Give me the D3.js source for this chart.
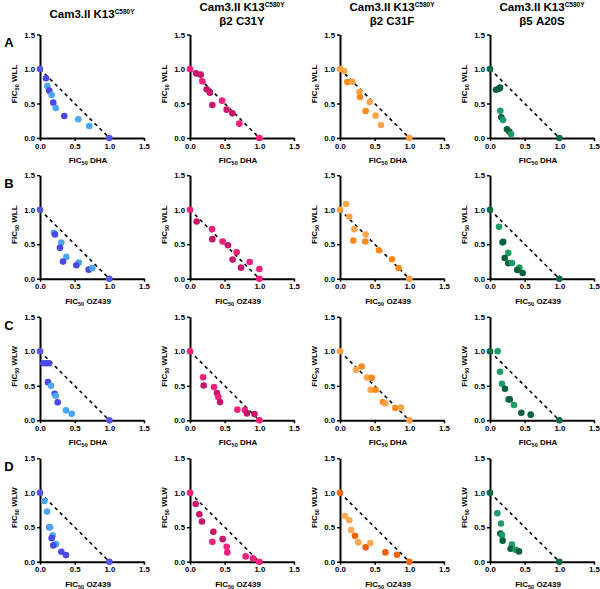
<!DOCTYPE html>
<html lang="en">
<head>
  <meta charset="UTF-8">
  <style>
    body { margin: 0; background: #fff; overflow: hidden; }
    svg { display: block; }
    text { font-family: "Liberation Sans", Arial, sans-serif; font-weight: bold; fill: #000; }
    .axis path, .axis line { stroke: #000; }
    .axis path { stroke-width: 2; }
    .axis line { stroke-width: 1.5; }
    .axis text { font-size: 7.8px; font-family: "Liberation Sans", Arial, sans-serif; font-weight: bold; }
    .diag { stroke: #000; stroke-width: 1.6; stroke-dasharray: 3.5, 3.5; }
  </style>
  <script src="https://d3js.org/d3.v7.min.js"></script>
</head>
<body>
<svg id="chart"></svg>
<script>
  // column headers (line 2 is optional)
  const headers = [
    ["Cam3.II K13", ""],
    ["Cam3.II K13", "\u03b22 C31Y"],
    ["Cam3.II K13", "\u03b22 C31F"],
    ["Cam3.II K13", "\u03b25 A20S"]
  ];
  const rowLetters = ["A", "B", "C", "D"];
  const xDrugs = ["DHA", "OZ439", "DHA", "OZ439"];
  const yDrugs = ["WLL", "WLL", "WLW", "WLW"];
  const tickValues = [0, 0.5, 1.0, 1.5];
  // single-drug anchors at FIC (0,1) and (1,0)
  const anchors = [[0, 1], [1, 0]];

  // points: [FIC x, FIC y, replicate]
  const pA1 = [[0.087,0.865,1],[0.105,0.754,2],[0.134,0.686,1],[0.169,0.623,2],[0.192,0.512,1],[0.226,0.435,2],[0.35,0.319,1],[0.552,0.271,2],[0.711,0.174,2]];
  const pA2 = [[0.087,0.937,1],[0.154,0.918,1],[0.178,0.821,2],[0.24,0.705,1],[0.288,0.657,1],[0.322,0.478,1],[0.462,0.541,2],[0.529,0.411,1],[0.611,0.357,1],[0.712,0.208,2]];
  const pA3 = [[0.063,0.97,2],[0.106,0.81,1],[0.178,0.816,2],[0.279,0.666,2],[0.288,0.594,1],[0.428,0.522,2],[0.37,0.391,1],[0.514,0.324,2],[0.591,0.188,2]];
  const pA4 = [[0.087,0.70,1],[0.13,0.715,1],[0.144,0.73,1],[0.149,0.396,2],[0.163,0.30,1],[0.188,0.26,2],[0.245,0.126,1],[0.279,0.092,1],[0.303,0.053,2]];

  const pB1 = [[0.202,0.665,2],[0.216,0.641,1],[0.308,0.524,2],[0.288,0.447,1],[0.38,0.316,2],[0.332,0.248,1],[0.558,0.233,2],[0.524,0.194,1],[0.702,0.131,1],[0.755,0.155,2]];
  const pB2 = [[0.096,0.83,1],[0.317,0.718,2],[0.322,0.573,1],[0.471,0.539,2],[0.548,0.485,1],[0.673,0.383,2],[0.615,0.277,1],[0.861,0.243,2],[0.736,0.16,1],[1.0,0.141,2]];
  const pB3 = [[0.087,1.083,2],[0.135,0.898,2],[0.207,0.718,2],[0.192,0.553,1],[0.37,0.64,2],[0.365,0.539,1],[0.562,0.413,1],[0.75,0.282,1],[0.846,0.155,1]];
  const pB4 = [[0.13,0.752,2],[0.178,0.524,2],[0.19,0.534,1],[0.264,0.374,2],[0.212,0.30,1],[0.264,0.223,1],[0.317,0.228,2],[0.423,0.16,2],[0.394,0.126,1],[0.471,0.083,1]];

  const pC1 = [[0.048,0.827,1],[0.096,0.827,1],[0.13,0.827,1],[0.115,0.553,1],[0.159,0.50,2],[0.212,0.385,1],[0.226,0.356,2],[0.255,0.26,1],[0.375,0.144,2],[0.457,0.096,2]];
  const pC2 = [[0.188,0.625,2],[0.197,0.505,1],[0.346,0.481,2],[0.389,0.394,1],[0.409,0.337,2],[0.433,0.264,1],[0.683,0.154,2],[0.79,0.15,2],[0.82,0.10,1],[0.93,0.09,1]];
  const pC3 = [[0.231,0.731,2],[0.312,0.779,1],[0.389,0.62,2],[0.457,0.615,1],[0.442,0.442,2],[0.514,0.442,1],[0.62,0.264,1],[0.654,0.245,2],[0.798,0.178,1],[0.88,0.183,2]];
  const pC4 = [[0.11,1.0,2],[0.144,0.702,2],[0.173,0.529,2],[0.216,0.457,1],[0.264,0.303,2],[0.284,0.303,1],[0.346,0.221,2],[0.452,0.11,1],[0.587,0.082,1]];

  const pD1 = [[0.063,0.88,2],[0.101,0.726,2],[0.135,0.50,1],[0.145,0.50,2],[0.183,0.38,2],[0.168,0.341,1],[0.231,0.255,2],[0.192,0.236,1],[0.308,0.144,1],[0.375,0.096,1]];
  const pD2 = [[0.082,0.837,1],[0.135,0.688,1],[0.173,0.582,1],[0.337,0.433,1],[0.322,0.288,2],[0.471,0.327,1],[0.529,0.216,2],[0.538,0.135,2],[0.803,0.077,2],[0.909,0.048,2]];
  const pD3 = [[0.072,0.66,2],[0.134,0.60,2],[0.159,0.46,2],[0.216,0.375,1],[0.264,0.28,2],[0.37,0.208,1],[0.437,0.27,2],[0.654,0.135,1],[0.822,0.10,1]];
  const pD4 = [[0.106,0.702,2],[0.159,0.553,2],[0.149,0.409,1],[0.173,0.385,2],[0.183,0.303,1],[0.317,0.25,2],[0.298,0.188,1],[0.37,0.173,2],[0.418,0.149,1]];

  const panels = [[pA1, pA2, pA3, pA4], [pB1, pB2, pB3, pB4], [pC1, pC2, pC3, pC4], [pD1, pD2, pD3, pD4]];

  // colours per column: anchor, replicate 1 (dark), replicate 2 (light)
  const palettes = [
    { end: "#5656ee", r1: "#4a48e6", r2: "#4ba6f3" },
    { end: "#ff1c7c", r1: "#c8146a", r2: "#f0207c" },
    { end: "#ffa040", r1: "#ff8a1a", r2: "#ffa64a" },
    { end: "#0c6a40", r1: "#0b603c", r2: "#1d9c68" }
  ];
  const orangeD = { end: "#ff6a10", r1: "#f5600a", r2: "#ffa84f" };

  const W = 600, H = 589;
  const colX = [40, 190, 340, 490];
  const rowZero = [138, 278.7, 420.3, 561.7];
  const plotW = 104, plotH = 103.5;

  const svg = d3.select("#chart").attr("width", W).attr("height", H);

  // headers
  headers.forEach((h, c) => {
    const cx = colX[c] + plotW / 2;
    const y1 = h[1] ? 8 : 15;
    const t = svg.append("text")
      .attr("x", cx).attr("y", y1)
      .attr("text-anchor", "middle")
      .attr("dominant-baseline", "middle")
      .style("font-size", "11.5px");
    t.append("tspan").text(h[0]);
    t.append("tspan").text("C580Y").style("font-size", "6.5px").attr("dy", -3.5);
    if (h[1]) {
      svg.append("text")
        .attr("x", cx).attr("y", 22)
        .attr("text-anchor", "middle")
        .attr("dominant-baseline", "middle")
        .style("font-size", "11.5px")
        .text(h[1]);
    }
  });

  // row letters
  rowLetters.forEach((l, r) => {
    svg.append("text")
      .attr("x", 9).attr("y", rowZero[r] - 94)
      .attr("text-anchor", "middle")
      .attr("dominant-baseline", "middle")
      .style("font-size", "13px")
      .text(l);
  });

  function subLabel(sel, main, sub, rest) {
    sel.append("tspan").text(main);
    sel.append("tspan").text(sub).style("font-size", "5.5px").attr("dy", 2);
    sel.append("tspan").text(rest).attr("dy", -2);
  }

  panels.forEach((row, r) => {
    row.forEach((pts, c) => {
      const pal = (r === 3 && c === 2) ? orangeD : palettes[c];
      const x0 = colX[c], y0 = rowZero[r];
      const x = d3.scaleLinear().domain([0, 1.5]).range([x0, x0 + plotW]);
      const y = d3.scaleLinear().domain([0, 1.5]).range([y0, y0 - plotH]);
      const g = svg.append("g");

      // additivity line
      g.append("line").attr("class", "diag")
        .attr("x1", x(anchors[0][0])).attr("y1", y(anchors[0][1]))
        .attr("x2", x(anchors[1][0])).attr("y2", y(anchors[1][1]));

      g.append("g").attr("class", "axis")
        .attr("transform", `translate(0,${y0})`)
        .call(d3.axisBottom(x).tickValues(tickValues).tickFormat(d3.format(".1f")).tickSize(3).tickSizeOuter(0).tickPadding(2));
      g.append("g").attr("class", "axis")
        .attr("transform", `translate(${x0},0)`)
        .call(d3.axisLeft(y).tickValues(tickValues).tickFormat(d3.format(".1f")).tickSize(3).tickSizeOuter(0).tickPadding(2));

      // axis titles
      const xt = g.append("text")
        .attr("x", x0 + plotW / 2 - 4).attr("y", y0 + 25)
        .attr("text-anchor", "middle")
        .style("font-size", "8px");
      subLabel(xt, "FIC", "50", " " + xDrugs[r]);

      const yt = g.append("text")
        .attr("transform", `translate(${x0 - 23},${y0 - 54}) rotate(-90)`)
        .attr("text-anchor", "middle")
        .style("font-size", "8px");
      subLabel(yt, "FIC", "50", " " + yDrugs[r]);

      g.selectAll("circle.pt").data(pts).enter().append("circle")
        .attr("cx", d => x(d[0])).attr("cy", d => y(d[1]))
        .attr("r", 3.3)
        .attr("fill", d => d[2] === 1 ? pal.r1 : pal.r2);

      g.selectAll("circle.end").data(anchors).enter().append("circle")
        .attr("cx", d => x(d[0])).attr("cy", d => y(d[1]))
        .attr("r", 3.3)
        .attr("fill", pal.end);
    });
  });
</script>
</body>
</html>
